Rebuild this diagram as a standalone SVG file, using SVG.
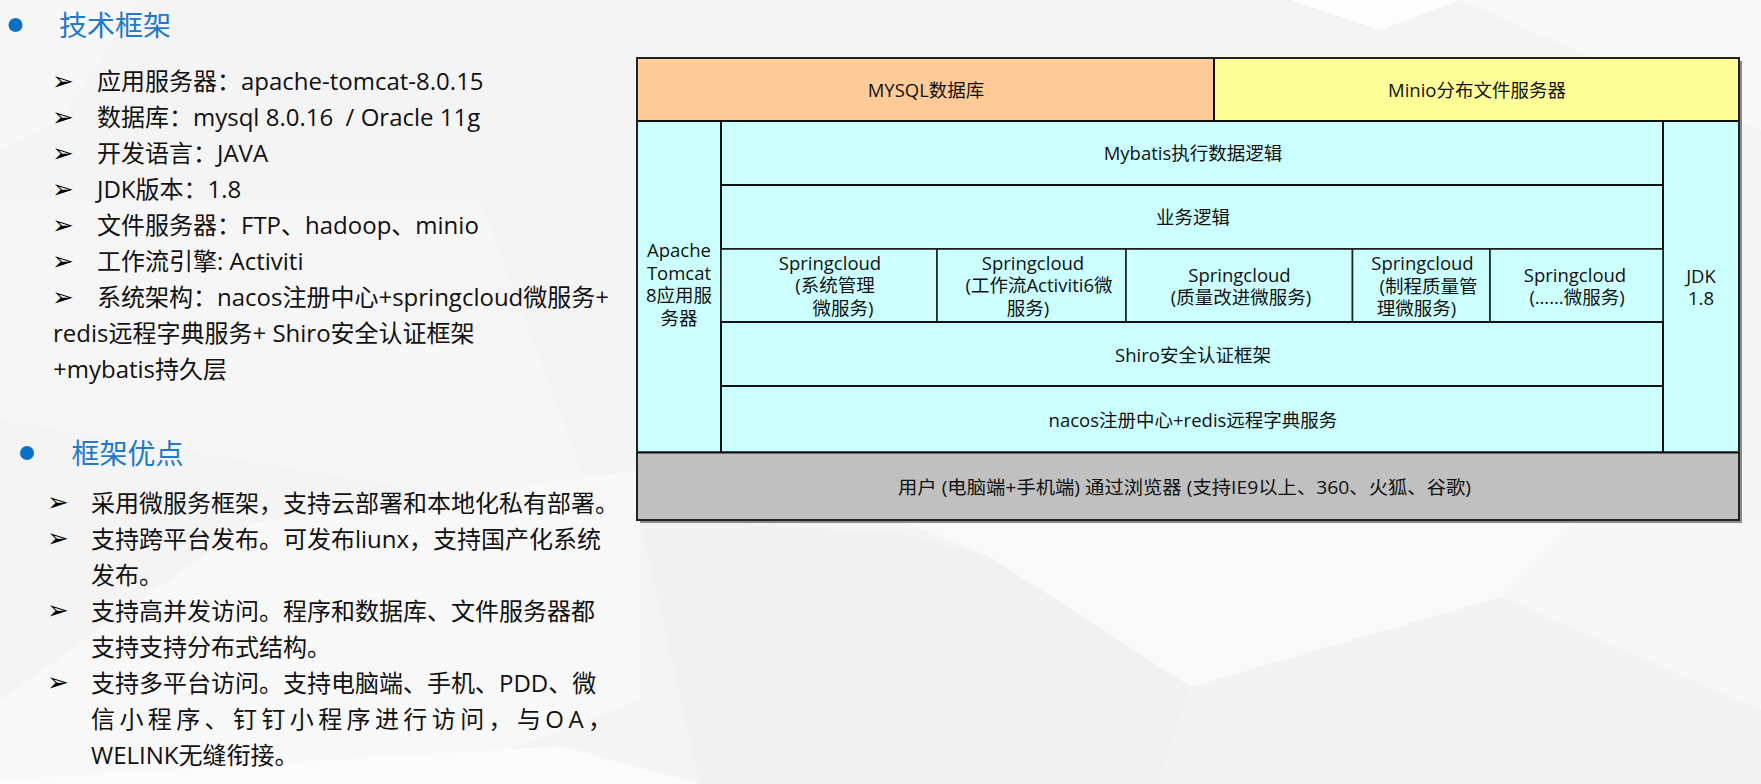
<svg xmlns="http://www.w3.org/2000/svg" width="1761" height="784" viewBox="0 0 1761 784">
<defs>
<style>
.cell{stroke:#111;stroke-width:2}
.thin{stroke:#222;stroke-width:1.6}
.peach{fill:#FFCC99}
.yellow{fill:#FFFF99}
.cyan{fill:#CCFFFF}
.gray{fill:#C0C0C0}
.t{font-family:"Open Sans","Noto Sans CJK SC",sans-serif;font-size:18.5px;fill:#111;text-anchor:middle;dominant-baseline:central}
.li{font-family:"Open Sans","Noto Sans CJK SC",sans-serif;font-size:24px;fill:#111;dominant-baseline:central}
.ar{font-family:"DejaVu Sans",sans-serif;font-size:26px;fill:#000;dominant-baseline:central}
.h{font-family:"Open Sans","Noto Sans CJK SC",sans-serif;font-size:28px;fill:#1F7ACB;dominant-baseline:central}
</style>
</defs>
<g id="background">
<rect x="0" y="0" width="1761" height="784" fill="#F4F4F5"/>
<polygon points="0,0 140,0 60,120 0,150" fill="#F7F7F7"/>
<polygon points="1290,0 1460,0 1380,30" fill="#FDFDFD"/>
<polygon points="1460,0 1761,0 1761,130" fill="#F8F8F8"/>
<polygon points="0,200 480,200 600,520 0,420" fill="#F6F6F6"/>
<polygon points="250,523 640,470 640,700 420,784 0,784 0,700" fill="#F8F8F8"/>
<polygon points="0,780 560,746 700,784 0,784" fill="#FBFBFB"/>
<polygon points="900,520 1575,520 1501,597 1191,687 990,557" fill="#F9F9F9"/>
<polygon points="640,520 900,533 990,557 1191,687 1158,784 700,784" fill="#F1F1F2"/>
<polygon points="1191,687 1501,597 1761,710 1761,784 1158,784" fill="#F3F3F4"/>
<polygon points="1575,520 1761,520 1761,710 1501,597" fill="#F7F7F7"/>
</g>
<g id="left-text">
<circle cx="15.5" cy="25" r="7" fill="#0B6FC6"/>
<text class="h" x="59" y="25">技术框架</text>
<text class="ar" x="52" y="80.7">➢</text><text class="li" x="97" y="80.7">应用服务器：apache-tomcat-8.0.15</text>
<text class="ar" x="52" y="116.7">➢</text><text class="li" x="97" y="116.7" xml:space="preserve">数据库：mysql 8.0.16  / Oracle 11g</text>
<text class="ar" x="52" y="152.7">➢</text><text class="li" x="97" y="152.7">开发语言：JAVA</text>
<text class="ar" x="52" y="188.7">➢</text><text class="li" x="97" y="188.7">JDK版本：1.8</text>
<text class="ar" x="52" y="224.7">➢</text><text class="li" x="97" y="224.7">文件服务器：FTP、hadoop、minio</text>
<text class="ar" x="52" y="260.7">➢</text><text class="li" x="97" y="260.7">工作流引擎: Activiti</text>
<text class="ar" x="52" y="296.7">➢</text><text class="li" x="97" y="296.7">系统架构：nacos注册中心+springcloud微服务+</text>
<text class="li" x="53" y="332.7">redis远程字典服务+ Shiro安全认证框架</text>
<text class="li" x="53" y="368.7">+mybatis持久层</text>
<circle cx="27" cy="453" r="7" fill="#0B6FC6"/>
<text class="h" x="71.5" y="453">框架优点</text>
<text class="ar" x="47" y="502.3">➢</text><text class="li" x="91" y="502.3">采用微服务框架，支持云部署和本地化私有部署。</text>
<text class="ar" x="47" y="538.3">➢</text><text class="li" x="91" y="538.3">支持跨平台发布。可发布liunx，支持国产化系统</text>
<text class="li" x="91" y="574.3">发布。</text>
<text class="ar" x="47" y="610.3">➢</text><text class="li" x="91" y="610.3">支持高并发访问。程序和数据库、文件服务器都</text>
<text class="li" x="91" y="646.3">支持支持分布式结构。</text>
<text class="ar" x="47" y="682.3">➢</text><text class="li" x="91" y="682.3">支持多平台访问。支持电脑端、手机、PDD、微</text>
<text class="li" x="91" y="718.3" textLength="521" lengthAdjust="spacing">信小程序、钉钉小程序进行访问，与OA，</text>
<text class="li" x="91" y="754.3">WELINK无缝衔接。</text>
</g>
<rect x="640" y="61" width="1102" height="462" fill="#8A8A8A"/>
<g id="mysql"><rect class="cell peach" x="637" y="58" width="577" height="63"/><text class="t" x="926" y="89.5">MYSQL数据库</text></g>
<g id="minio"><rect class="cell yellow" x="1214" y="58" width="525" height="63"/><text class="t" x="1477" y="89.5">Minio分布文件服务器</text></g>
<g id="tomcat"><rect class="cell cyan" x="637" y="121" width="84" height="331.5"/>
<text class="t" x="679" y="249.5">Apache</text><text class="t" x="679" y="272.2">Tomcat</text><text class="t" x="679" y="294.9">8应用服</text><text class="t" x="679" y="317.6">务器</text></g>
<g id="jdk"><rect class="cell cyan" x="1663" y="121" width="76" height="331.5"/>
<text class="t" x="1701" y="275.2">JDK</text><text class="t" x="1701" y="297.9">1.8</text></g>
<g id="mybatis"><rect class="cell cyan" x="721" y="121" width="942" height="64"/><text class="t" x="1193" y="152.8">Mybatis执行数据逻辑</text></g>
<g id="business"><rect class="cell cyan" x="721" y="185" width="942" height="64"/><text class="t" x="1193" y="216.8">业务逻辑</text></g>
<g id="sc-system"><rect class="thin cyan" x="721" y="249" width="216" height="73"/>
<text class="t" x="830" y="262.3">Springcloud</text><text class="t" x="835" y="284.7">(系统管理</text><text class="t" x="843" y="307.2">微服务)</text></g>
<g id="sc-workflow"><rect class="thin cyan" x="937" y="249" width="189" height="73"/>
<text class="t" x="1033" y="262.3">Springcloud</text><text class="t" x="1039" y="284.7">(工作流Activiti6微</text><text class="t" x="1028" y="307.2">服务)</text></g>
<g id="sc-quality"><rect class="thin cyan" x="1126" y="249" width="226.5" height="73"/>
<text class="t" x="1239.5" y="274">Springcloud</text><text class="t" x="1241" y="296.7">(质量改进微服务)</text></g>
<g id="sc-process"><rect class="thin cyan" x="1352.5" y="249" width="137.5" height="73"/>
<text class="t" x="1422.5" y="262.7">Springcloud</text><text class="t" x="1428.5" y="285.3">(制程质量管</text><text class="t" x="1416.5" y="307.5">理微服务)</text></g>
<g id="sc-more"><rect class="thin cyan" x="1490" y="249" width="173" height="73"/>
<text class="t" x="1575" y="274">Springcloud</text><text class="t" x="1577" y="296.7">(……微服务)</text></g>
<g id="shiro"><rect class="cell cyan" x="721" y="322" width="942" height="64"/><text class="t" x="1193" y="354.5">Shiro安全认证框架</text></g>
<g id="nacos"><rect class="cell cyan" x="721" y="386" width="942" height="66.5"/><text class="t" x="1193" y="419.5">nacos注册中心+redis远程字典服务</text></g>
<g id="user"><rect class="cell gray" x="637" y="452.5" width="1102" height="67.5"/><text class="t" x="1184.5" y="486.5" textLength="573" lengthAdjust="spacingAndGlyphs">用户 (电脑端+手机端) 通过浏览器 (支持IE9以上、360、火狐、谷歌)</text></g>
<rect x="637" y="58" width="1102" height="462" fill="none" stroke="#222" stroke-width="2"/>
<g id="connectors"></g>
</svg>
